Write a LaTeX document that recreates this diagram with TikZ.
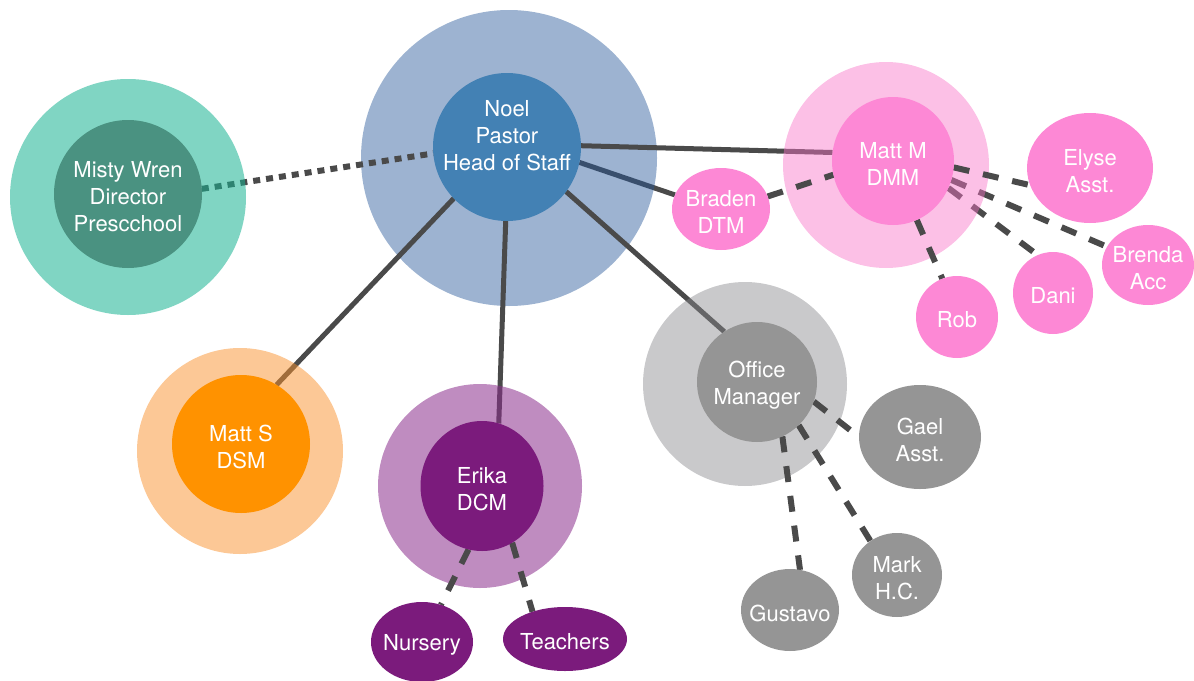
\documentclass[tikz,border=0pt]{standalone}
\usepackage{fontspec}
\setmainfont{TeX Gyre Heros}
\usetikzlibrary{shapes.geometric}

% link colour
\definecolor{linegray}{RGB}{74,74,74}
% halo colours are given for their fill opacity, cores are opaque
\definecolor{noelring}{RGB}{37,86,153}     % opacity .45
\definecolor{noelcore}{RGB}{67,129,180}
\definecolor{mistyring}{RGB}{24,179,146}   % opacity .55
\definecolor{mistycore}{RGB}{74,146,129}
\definecolor{mattmring}{RGB}{248,115,199}  % opacity .45
\definecolor{pinkcore}{RGB}{253,136,213}
\definecolor{mattsring}{RGB}{249,145,45}   % opacity .5
\definecolor{mattscore}{RGB}{255,146,0}
\definecolor{erikaring}{RGB}{139,46,140}   % opacity .55
\definecolor{erikacore}{RGB}{123,27,124}
\definecolor{officering}{RGB}{135,135,139} % opacity .45
\definecolor{officecore}{RGB}{149,149,149}

% drawing order: links under the pastor halo, pastor halo, links under
% the other halos, other halos, links on top, then the people themselves
\pgfdeclarelayer{linksbottom}
\pgfdeclarelayer{pastorhalo}
\pgfdeclarelayer{linksmiddle}
\pgfdeclarelayer{halos}
\pgfdeclarelayer{linkstop}
\pgfsetlayers{linksbottom,pastorhalo,linksmiddle,halos,linkstop,main}

\tikzset{
  halo/.style={circle, inner sep=0pt, outer sep=0pt, draw=none, minimum size=#1},
  core/.style={circle, inner sep=0pt, outer sep=0pt, draw=none, minimum size=#1},
  person/.style={ellipse, inner sep=0pt, outer sep=0pt, draw=none},
  lbl/.style={text=white, align=center, inner sep=0pt, yshift=#1,
              font=\fontsize{22}{27}\selectfont},
  lbl/.default=-3pt,
  solidlink/.style={draw=linegray, line width=5pt},
  dashlink/.style={draw=linegray, line width=6pt, dash pattern=on 16pt off 14pt},
  dotlink/.style={draw=linegray, line width=6pt, dash pattern=on 7pt off 6pt},
}

\begin{document}
\begin{tikzpicture}[x=1pt, y=-1pt]
\useasboundingbox (0,0) rectangle (1194,680);

% ---- halos ----
\begin{pgfonlayer}{pastorhalo}
  \node[halo=296pt, fill=noelring, fill opacity=.45] (noelhalo) at (509,158) {};
\end{pgfonlayer}
\begin{pgfonlayer}{halos}
  \node[halo=236pt, fill=mistyring, fill opacity=.55] (mistyhalo) at (128,197) {};
  \node[halo=206pt, fill=mattmring, fill opacity=.45] (mattmhalo) at (886,165) {};
  \node[halo=206pt, fill=mattsring, fill opacity=.5] (mattshalo) at (240,451) {};
  \node[halo=204pt, fill=erikaring, fill opacity=.55] (erikahalo) at (480,486) {};
  \node[halo=204pt, fill=officering, fill opacity=.45] (officehalo) at (745,384) {};
\end{pgfonlayer}

% ---- staff ----
\node[core=148pt, fill=noelcore,
      label={[lbl=11pt]center:{Noel\\Pastor\\Head of Staff}}] (noel) at (507,147) {};
\node[core=148pt, fill=mistycore,
      label={[lbl]center:{Misty Wren\\Director\\Prescchool}}] (misty) at (128,194) {};
\node[person, fill=pinkcore, minimum width=122pt, minimum height=128pt,
      label={[lbl]center:{Matt M\\DMM}}] (mattm) at (893,161) {};
\node[core=138pt, fill=mattscore,
      label={[lbl]center:{Matt S\\DSM}}] (matts) at (241,444) {};
\node[person, fill=erikacore, minimum width=123pt, minimum height=130pt,
      label={[lbl]center:{Erika\\DCM}}] (erika) at (482,486) {};
\node[core=120pt, fill=officecore,
      label={[lbl]center:{Office\\Manager}}] (office) at (757,382) {};

% music team
\node[person, fill=pinkcore, minimum width=98pt, minimum height=82pt,
      label={[lbl]center:{Braden\\DTM}}] (braden) at (721,209) {};
\node[person, fill=pinkcore, minimum width=126pt, minimum height=110pt,
      label={[lbl]center:{Elyse\\Asst.}}] (elyse) at (1090,168) {};
\node[person, fill=pinkcore, minimum width=92pt, minimum height=80pt,
      label={[lbl]center:{Brenda\\Acc}}] (brenda) at (1148,265) {};
\node[person, fill=pinkcore, minimum width=80pt, minimum height=82pt,
      label={[lbl]center:{Dani}}] (dani) at (1053,293) {};
\node[person, fill=pinkcore, minimum width=82pt, minimum height=82pt,
      label={[lbl]center:{Rob}}] (rob) at (957,317) {};

% children's ministry
\node[person, fill=erikacore, minimum width=102pt, minimum height=80pt,
      label={[lbl]center:{Nursery}}] (nursery) at (422,642) {};
\node[person, fill=erikacore, minimum width=124pt, minimum height=64pt,
      label={[lbl]center:{Teachers}}] (teachers) at (565,639) {};

% office
\node[person, fill=officecore, minimum width=122pt, minimum height=104pt,
      label={[lbl]center:{Gael\\Asst.}}] (gael) at (920,437) {};
\node[person, fill=officecore, minimum width=90pt, minimum height=84pt,
      label={[lbl]center:{Mark\\H.C.}}] (mark) at (897,575) {};
\node[person, fill=officecore, minimum width=98pt, minimum height=82pt,
      label={[lbl]center:{Gustavo}}] (gustavo) at (790,610) {};

% ---- links ----
\begin{pgfonlayer}{linksbottom}
  \draw[solidlink] (noel.-12) -- (braden.163);
\end{pgfonlayer}

\begin{pgfonlayer}{linksmiddle}
  \draw[solidlink] (noel.1.5) -- (mattm.172);
  \draw[solidlink] (noel.224) -- (matts.59);
  \draw[solidlink] (noel.-91) -- (erika.75);
  \draw[solidlink] (noel.-37) -- (office.123);
  \draw[dotlink] (misty.4) -- (noel.185);
  \draw[dashlink] (mattm.-26) -- (dani.112);
  \draw[dashlink] (mattm.-18) -- (brenda.156);
\end{pgfonlayer}

\begin{pgfonlayer}{linkstop}
  \draw[dashlink] (braden.15) -- (mattm.193);
  \draw[dashlink] (mattm.-6) -- (elyse.196);
  \draw[dashlink] (mattm.-68) -- (rob.111);
  \draw[dashlink] (office.-19) -- (gael.180);
  \draw[dashlink] (office.-46) -- (mark.128);
  \draw[dashlink] (office.-65) -- (gustavo.76);
  \draw[dashlink] (erika.-102) -- (nursery.63);
  \draw[dashlink] (erika.-62) -- (teachers.140);
\end{pgfonlayer}
\end{tikzpicture}
\end{document}
